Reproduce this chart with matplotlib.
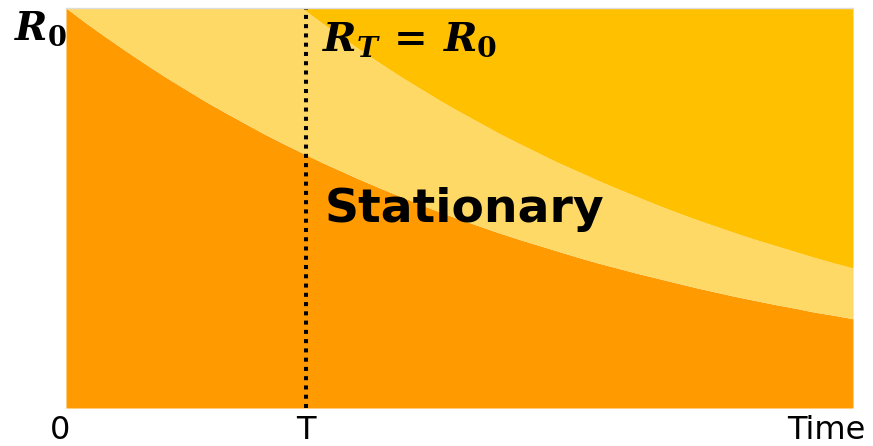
import numpy as np
import matplotlib
matplotlib.use("Agg")
import matplotlib.pyplot as plt

## Curve samples (time in units of the full window, R in units of R0)
time = [0.000, 0.025, 0.050, 0.075, 0.100, 0.125, 0.150, 0.175, 0.200, 0.225,
        0.250, 0.275, 0.300, 0.325, 0.350, 0.375, 0.400, 0.425, 0.450, 0.475,
        0.500, 0.525, 0.550, 0.575, 0.600, 0.625, 0.650, 0.675, 0.700, 0.725,
        0.750, 0.775, 0.800, 0.825, 0.850, 0.875, 0.900, 0.925, 0.950, 0.975,
        1.000]
r_low = [1.000, 0.963, 0.928, 0.894, 0.861, 0.829, 0.799, 0.769, 0.741, 0.714,
         0.687, 0.662, 0.638, 0.614, 0.592, 0.570, 0.549, 0.529, 0.509, 0.490,
         0.472, 0.455, 0.438, 0.422, 0.407, 0.392, 0.377, 0.363, 0.350, 0.337,
         0.325, 0.313, 0.301, 0.290, 0.279, 0.269, 0.259, 0.250, 0.240, 0.232,
         0.223]
r_high = [1.000, 1.000, 1.000, 1.000, 1.000, 1.000, 1.000, 1.000, 1.000, 1.000,
          1.000, 1.000, 1.000, 0.963, 0.928, 0.894, 0.861, 0.829, 0.799, 0.769,
          0.741, 0.714, 0.687, 0.662, 0.638, 0.614, 0.592, 0.570, 0.549, 0.529,
          0.509, 0.490, 0.472, 0.455, 0.438, 0.422, 0.407, 0.392, 0.377, 0.363,
          0.350]
T = 0.305
tick_pos = [0.0, T, 1.0]
tick_lab = ["0", "T", "Time"]

c_low = "#FF9A00"
c_mid = "#FFD966"
c_top = "#FFC000"

plt.rcParams['mathtext.fontset'] = 'custom'
plt.rcParams['mathtext.it'] = 'DejaVu Serif:italic:bold'
plt.rcParams['mathtext.rm'] = 'DejaVu Serif:bold'
plt.rcParams['mathtext.bf'] = 'DejaVu Serif:bold'

fig = plt.figure(figsize=(8.73, 4.46), dpi=100)
ax = fig.add_axes([66/873, 38/446, 787/873, 400/446])

t = np.array(time)
ax.fill_between(t, 0, r_low, color=c_low, lw=0)
ax.fill_between(t, r_low, r_high, color=c_mid, lw=0)
ax.fill_between(t, r_high, 1, color=c_top, lw=0)

ax.plot([T, T], [0, 1], color="black", lw=2.9, linestyle=(0, (1, 1.3)))

ax.set_xlim(0, 1)
ax.set_ylim(0, 1)
ax.set_xticks([])
ax.set_yticks([])
for s in ["left", "right", "bottom"]:
    ax.spines[s].set_visible(False)
ax.spines["top"].set_color("#dddddd")
ax.spines["top"].set_linewidth(1)

# time labels under the axis
offs = [-0.008, 0.0, -0.034]
for p, lab, o in zip(tick_pos, tick_lab, offs):
    ax.text(p + o, -0.077, lab, ha="center", va="baseline", fontsize=23,
            family="DejaVu Sans", clip_on=False)

ax.text(-0.066, 0.995, r"$R_0$", ha="left", va="top", fontsize=28,
        clip_on=False)
ax.text(T + 0.02, 0.97, r"$R_T\,=\,R_0$", ha="left", va="top", fontsize=29)
ax.text(T + 0.024, 0.465, "Stationary", ha="left", va="baseline",
        fontsize=34, weight="bold", family="DejaVu Sans")

fig.savefig("out.png", dpi=100)
